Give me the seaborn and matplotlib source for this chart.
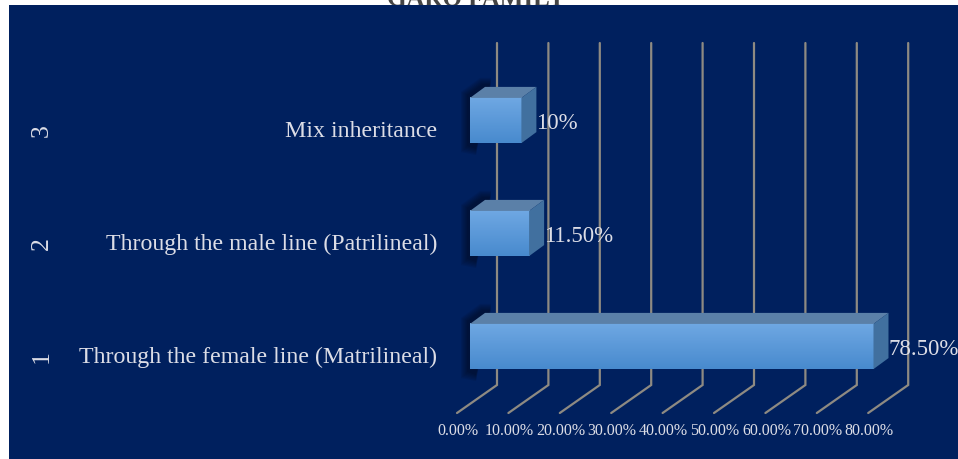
import numpy as np
import matplotlib
matplotlib.use("Agg")
import matplotlib.pyplot as plt
from matplotlib.patches import Rectangle, Polygon
import seaborn as sns

categories = ["Mix inheritance",
              "Through the male line (Patrilineal)",
              "Through the female line (Matrilineal)"]
values = [10.0, 11.5, 78.5]
value_labels = ["10%", "11.50%", "78.50%"]
level_labels = ["3", "2", "1"]
tick_values = [0, 10, 20, 30, 40, 50, 60, 70, 80]
tick_labels = ["0.00%", "10.00%", "20.00%", "30.00%", "40.00%",
               "50.00%", "60.00%", "70.00%", "80.00%"]
title = "GARO FAMILY"

W, H = 958, 459
NAVY = "#00205E"
TXT = "#DCDDE6"
GRID = "#8E8A82"
SERIF = ["Liberation Serif", "DejaVu Serif"]

sns.set_theme(style="white")
plt.rcParams["font.family"] = SERIF

fig = plt.figure(figsize=(W / 100, H / 100), dpi=100)
fig.patch.set_facecolor("white")
fig.patches.append(Rectangle((9 / W, 0), (W - 9) / W, (H - 5) / H,
                             transform=fig.transFigure, facecolor=NAVY,
                             edgecolor="none", zorder=-10))
fig.text(476 / W, 1 - 6 / H, title, ha="center", va="baseline",
         fontsize=18, fontweight="bold", color="#444444", family=SERIF,
         zorder=-20)

# pixel geometry
px_per_unit = 5.14
x0_px = 470
ax_right_px = x0_px + 80 * px_per_unit
top_px, bot_px = 43, 413
cat0_px, cat_step = 120.5, 113.0
ylim_top = (top_px - cat0_px) / cat_step
ylim_bot = (bot_px - cat0_px) / cat_step

ax = fig.add_axes([x0_px / W, 1 - bot_px / H,
                   (ax_right_px - x0_px) / W, (bot_px - top_px) / H])
ax.patch.set_alpha(0)

def dx(px):
    return px / px_per_unit

def dy(px):
    return px / cat_step

# gridlines (back wall + floor diagonals)
back_bottom = (385 - cat0_px) / cat_step
for v in tick_values:
    xb = v + dx(27)
    xf = v - dx(13)
    ax.plot([xb, xb, xf], [ylim_top, back_bottom, ylim_bot], color=GRID,
            lw=1.6, clip_on=False, zorder=1, solid_joinstyle="miter")

sns.barplot(x=values, y=categories, orient="h", ax=ax, width=0.4,
            color="#5B9BD5", saturation=1, edgecolor="none", zorder=3)

top_col = np.array([111, 168, 227]) / 255
bot_col = np.array([72, 138, 206]) / 255
grad = np.linspace(0, 1, 64)[:, None, None]
grad_img = top_col * (1 - grad) + bot_col * grad

ox, oy = dx(15), -dy(11)
for p in ax.patches[:len(values)]:
    x0, y0 = p.get_x(), p.get_y()
    w, h = p.get_width(), p.get_height()
    yt, yb = y0, y0 + h  # yt is visually top (axis inverted)
    x1 = x0 + w
    # soft shadow behind the bar, offset up-left
    for k in range(6):
        g = 1.2 * k
        sx, sy = dx(-3), dy(-3)
        ax.add_patch(Polygon([(x0 + sx - dx(g), yb + sy + dy(6 + g)),
                              (x0 + sx - dx(g), yt + sy - dy(g * 0.5)),
                              (x0 + ox + sx - dx(g * 0.3), yt + oy + sy - dy(g)),
                              (x0 + ox + dx(6), yt + oy + sy - dy(g)),
                              (x0 + dx(6), yb + dy(6 + g))],
                             closed=True, facecolor="black", alpha=0.07,
                             edgecolor="none", zorder=2, clip_on=False))
    ax.imshow(grad_img, extent=(x0, x1, yb, yt), aspect="auto",
              origin="upper", zorder=3.5, clip_path=p, clip_on=True)
    # top face
    ax.add_patch(Polygon([(x0, yt), (x1, yt), (x1 + ox, yt + oy),
                          (x0 + ox, yt + oy)], closed=True,
                         facecolor="#5B80A8", edgecolor="none", zorder=4,
                         clip_on=False))
    # side face
    ax.add_patch(Polygon([(x1, yt), (x1, yb), (x1 + ox, yb + oy),
                          (x1 + ox, yt + oy)], closed=True,
                         facecolor="#41709F", edgecolor="none", zorder=4,
                         clip_on=False))

for i, (v, lab) in enumerate(zip(values, value_labels)):
    ax.text(v + dx(15), i + dy(3), lab, ha="left", va="center",
            fontsize=16.5, color=TXT, clip_on=False, zorder=6)

for i, (cat, lvl) in enumerate(zip(categories, level_labels)):
    ax.text(dx(437 - x0_px), i + dy(11), cat, ha="right", va="center",
            fontsize=17.2, color=TXT, clip_on=False)
    ax.text(dx(42 - x0_px), i + dy(10), lvl, ha="center", va="center",
            fontsize=18.5, color=TXT, rotation=90, clip_on=False)

label_y = (431 - cat0_px) / cat_step
for v, lab in zip(tick_values, tick_labels):
    ax.text(v - dx(12), label_y, lab, ha="center", va="center",
            fontsize=11.5, color=TXT, clip_on=False)

ax.set_xlim(0, 80)
ax.set_ylim(ylim_bot, ylim_top)
ax.axis("off")

fig.savefig("out.png", dpi=100, facecolor=fig.get_facecolor())
